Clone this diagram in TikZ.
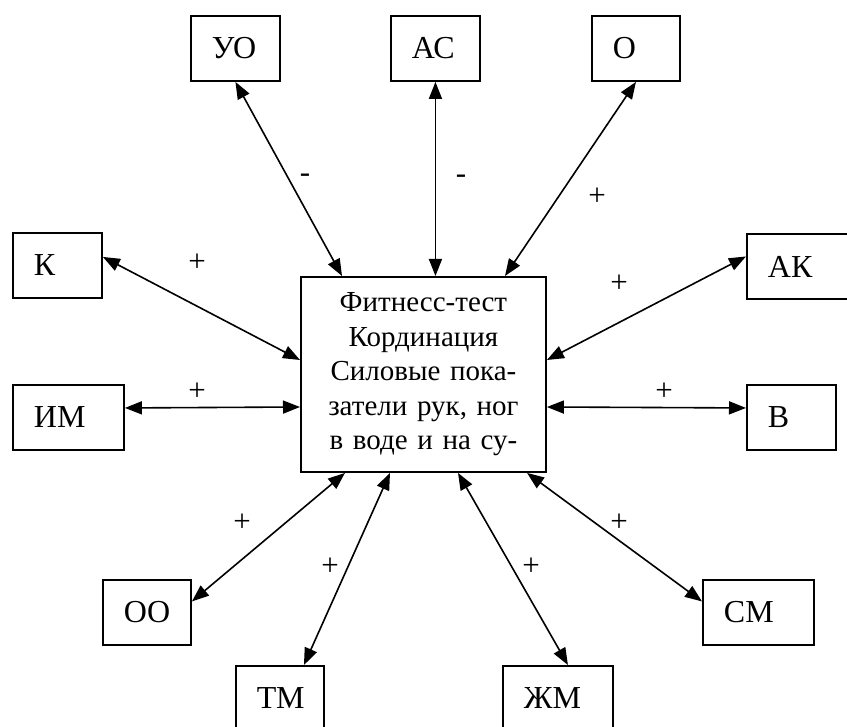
\documentclass[tikz,border=0pt]{standalone}
\usepackage{fontspec}
\setmainfont{Liberation Serif}
\usetikzlibrary{arrows.meta}
\begin{document}
\begin{tikzpicture}[x=1pt,y=-1pt,
  lbox/.style={draw, line width=1.9pt, anchor=north west, minimum height=65pt, inner xsep=21pt, inner ysep=0pt, align=left, font=\fontsize{32}{36}\selectfont},
  link/.style={line width=1.6pt, {Triangle[length=17pt,width=13pt]}-{Triangle[length=17pt,width=13pt]}},
  sign/.style={font=\fontsize{31}{34}\selectfont, inner sep=0pt}]
\useasboundingbox (0,0) rectangle (847,727);
\clip (0,0) rectangle (847,727);
\node[lbox, text width=47pt] (uo) at (190,15) {УО};
\node[lbox, text width=47pt] (ac) at (390,15) {АС};
\node[lbox, text width=46pt] (o) at (591,15) {О};
\node[lbox, text width=47pt] (k) at (12,232) {К};
\node[lbox, text width=68pt] (ak) at (746,233) {АК};
\node[lbox, text width=69pt] (im) at (12,384) {ИМ};
\node[lbox, text width=47pt] (v) at (746,384) {В};
\node[lbox, text width=46pt] (oo) at (102,579) {ОО};
\node[lbox, text width=69pt] (sm) at (702,579) {СМ};
\node[lbox, text width=46pt] (tm) at (235,665) {ТМ};
\node[lbox, text width=68pt] (zm) at (502,665) {ЖМ};
\node[draw, line width=1.9pt, anchor=north west, minimum width=245pt, minimum height=195pt,
  text width=225pt, align=center, inner sep=0pt, font=\fontsize{29}{34.5}\selectfont] (c) at (300,276)
  {Фитнесс-тест\\Кординация\\Силовые пока-\\затели рук, ног\\в воде и на су-};
\draw[link] (uo.south) -- ([xshift=42pt]c.north west);
\draw[link] (ac.south) -- (ac.south |- c.north);
\draw[link] (o.south) -- ([xshift=205pt]c.north west);
\draw[link] ([yshift=8.5pt]k.east) -- ([yshift=-84pt]c.north west);
\draw[link] ([yshift=9.5pt]im.east) -- ([yshift=-131pt]c.north west);
\draw[link] ([yshift=10pt]ak.west) -- ([yshift=-84pt]c.north east);
\draw[link] ([yshift=9.5pt]v.west) -- ([yshift=-131pt]c.north east);
\draw[link] ([yshift=11pt]oo.east) -- ([xshift=45pt]c.south west);
\draw[link] ([xshift=24pt]tm.north) -- ([xshift=90pt]c.south west);
\draw[link] ([xshift=10pt]zm.north) -- ([xshift=158pt]c.south west);
\draw[link] ([yshift=11pt]sm.west) -- ([xshift=227pt]c.south west);
\node[sign] (s1) at (305,178) {-};
\node[sign] (s2) at (461,179) {-};
\node[sign] (s3) at (597,197) {+};
\node[sign] (s4) at (197,263) {+};
\node[sign] (s5) at (197,392) {+};
\node[sign] (s6) at (619,284) {+};
\node[sign] (s7) at (664,392) {+};
\node[sign] (s8) at (242,523) {+};
\node[sign] (s9) at (330,567) {+};
\node[sign] (s10) at (531,567) {+};
\node[sign] (s11) at (619,523) {+};
\end{tikzpicture}
\end{document}
